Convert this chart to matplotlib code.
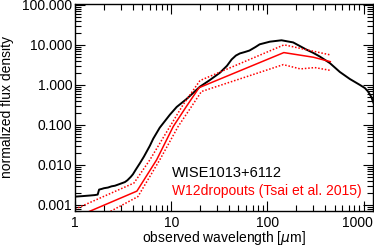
import matplotlib
matplotlib.use('Agg')
import matplotlib.pyplot as plt
from matplotlib.ticker import LogLocator, NullFormatter
from matplotlib.transforms import ScaledTranslation

plt.rcParams['font.family'] = ['Liberation Sans', 'DejaVu Sans']

# --- data ---
# WISE1013+6112 (black)
wise_wl = [1.0, 1.2, 1.4, 1.6, 1.72, 1.78, 1.9, 2.0, 2.2, 2.4, 2.6, 2.8, 3.0, 3.3, 3.5,
           3.8, 4.0, 4.27, 4.73, 5.2, 6.0, 6.5, 7.6, 9.7, 11.4, 14.4, 19.9, 25, 32,
           38, 42.4, 47, 51.7, 58, 65, 75, 83, 106, 140, 185, 254, 299, 350, 445,
           565, 718, 910, 1030, 1110, 1200, 1260]
wise_f = [0.0016, 0.00165, 0.0017, 0.00175, 0.0018, 0.0024, 0.0025, 0.0026, 0.0027, 0.0029,
          0.0030, 0.0032, 0.0034, 0.0037, 0.0041, 0.0050, 0.0058, 0.0075, 0.011, 0.016,
          0.030, 0.045, 0.085, 0.18, 0.28, 0.44, 0.9, 1.3, 2.0, 3.0, 4.3, 5.4, 6.1, 6.6,
          7.2, 8.8, 10.3, 12.0, 13.0, 11.5, 7.6, 6.3, 5.1, 3.5, 2.1, 1.4, 1.0, 0.83,
          0.68, 0.5, 0.36]

# W12dropouts template (Tsai et al. 2015), median and range
tsai_wl = [1.0, 4.4, 7.05, 10.5, 14.4, 19.5, 148, 300, 450]
tsai_f = [0.00048, 0.0022, 0.0133, 0.091, 0.29, 0.85, 6.4, 4.9, 3.8]

tsai_hi_wl = [1.0, 4.1, 6.0, 9.7, 13.3, 19.9, 149, 450]
tsai_hi_f = [0.00078, 0.0035, 0.0133, 0.091, 0.32, 1.28, 10.0, 5.6]

tsai_lo_wl = [1.0, 4.5, 7.6, 11.8, 16.3, 20.6, 146, 220, 310, 450]
tsai_lo_f = [0.00023, 0.0016, 0.0133, 0.091, 0.29, 0.68, 3.2, 2.5, 2.7, 2.3]

yticks = [0.001, 0.01, 0.1, 1, 10, 100]
ylabels = ['0.001', '0.010', '0.100', '1.000', '10.000', '100.000']
xticks = [1, 10, 100, 1000]
xlabels = ['1', '10', '100', '1000']

fig = plt.figure(figsize=(3.74, 2.48), dpi=100)
ax = fig.add_axes([75 / 374, 37 / 248, 298 / 374, 207 / 248])

ax.plot(wise_wl, wise_f, color='black', lw=1.4)
ax.plot(tsai_wl, tsai_f, color='red', lw=1.1)
ax.plot(tsai_hi_wl, tsai_hi_f, color='red', lw=1.1, linestyle=(0, (1, 1.2)))
ax.plot(tsai_lo_wl, tsai_lo_f, color='red', lw=1.1, linestyle=(0, (1, 1.2)))

ax.set_xscale('log')
ax.set_yscale('log')
ax.set_xlim(1, 1250)
ax.set_ylim(7e-4, 105)

ax.set_xticks(xticks)
ax.set_xticklabels(xlabels)
ax.set_yticks(yticks)
ax.set_yticklabels(ylabels)
ax.xaxis.set_minor_locator(LogLocator(base=10, subs=range(2, 10)))
ax.yaxis.set_minor_locator(LogLocator(base=10, subs=range(2, 10)))
ax.xaxis.set_minor_formatter(NullFormatter())
ax.yaxis.set_minor_formatter(NullFormatter())

ax.tick_params(which='both', direction='in', top=True, right=True, width=0.8,
               labelsize=10, colors='black')
ax.tick_params(which='major', length=7)
ax.tick_params(which='minor', length=4)
ax.tick_params(axis='x', which='major', pad=3.5)
ax.tick_params(axis='y', which='major', pad=2)
for s in ax.spines.values():
    s.set_linewidth(1.0)

# keep the last x label inside the picture
last = ax.get_xticklabels()[-1]
last.set_transform(last.get_transform() + ScaledTranslation(-6 / 100, 0, fig.dpi_scale_trans))

ax.set_xlabel(r'observed wavelength [$\mu$m]', fontsize=10, va='bottom')
ax.xaxis.set_label_coords(0.5, -0.172)
ax.set_ylabel('normalized flux density', fontsize=10)
ax.yaxis.set_label_coords(-0.205, 0.5)

ax.text(0.325, 0.185, 'WISE1013+6112', transform=ax.transAxes, fontsize=10.5,
        color='black', va='center')
ax.text(0.325, 0.098, 'W12dropouts (Tsai et al. 2015)', transform=ax.transAxes,
        fontsize=10, color='red', va='center')

fig.savefig('out.png', dpi=100)
